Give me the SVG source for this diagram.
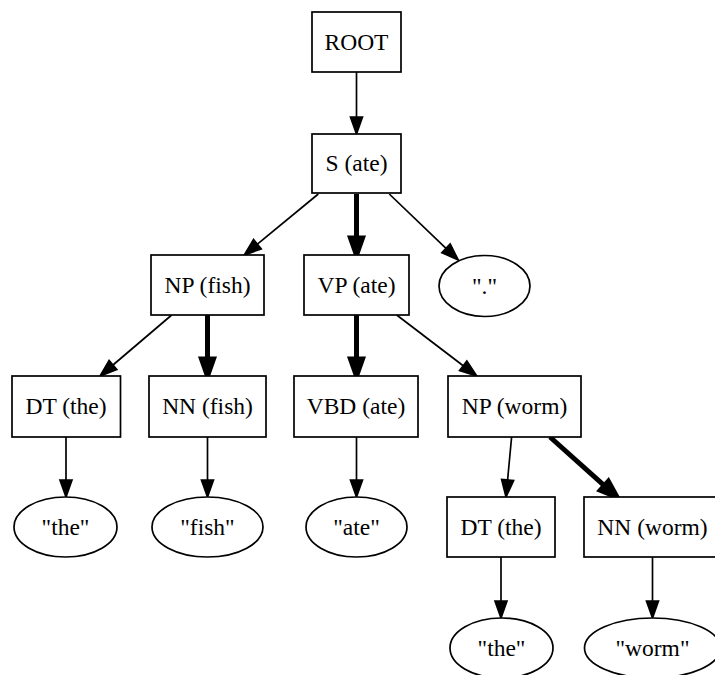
<svg xmlns="http://www.w3.org/2000/svg" width="715" height="675" viewBox="0 0 715 675">
  <style>
    .node rect, .node ellipse { fill: #fff; stroke: #000; stroke-width: 1.7; }
    .node text { font-family: 'Liberation Serif', 'Times New Roman', Tinos, 'DejaVu Serif', serif; font-size: 23.5px; text-anchor: middle; fill: #000; }
    .edge { fill: none; stroke: #000; }
    .thin { stroke-width: 1.7; marker-end: url(#arr); }
    .thick { stroke-width: 5; marker-end: url(#arrB); }
  </style>
  <defs>
    <marker id="arr" markerUnits="userSpaceOnUse" orient="auto" refX="0" refY="0" markerWidth="20" markerHeight="20" overflow="visible">
      <path d="M0,-6 L17,0 L0,6 Z" fill="#000" stroke="#000" stroke-width="1.7"/>
    </marker>
    <marker id="arrB" markerUnits="userSpaceOnUse" orient="auto" refX="0" refY="0" markerWidth="20" markerHeight="20" overflow="visible">
      <path d="M0,-6 L17,0 L0,6 Z" fill="#000" stroke="#000" stroke-width="5"/>
    </marker>
  </defs>
  <rect width="715" height="675" fill="#fff"/>

  <g id="edges">
    <path class="edge thin" d="M356.5,72 L356.5,117"/>
    <path class="edge thin" d="M318.3,194 L257.4,244.2"/>
    <path class="edge thick" d="M356.5,194 L356.5,238"/>
    <path class="edge thin" d="M389.3,194 L446,248.3"/>
    <path class="edge thin" d="M171.7,315 L113,365"/>
    <path class="edge thick" d="M207.5,315 L207.5,359"/>
    <path class="edge thick" d="M356.5,315 L356.5,359"/>
    <path class="edge thin" d="M396.7,315 L463.2,365.7"/>
    <path class="edge thin" d="M511.7,436 L507.6,480"/>
    <path class="edge thick" d="M550,437 L604.3,485.7"/>
    <path class="edge thin" d="M66,436 L66,480"/>
    <path class="edge thin" d="M207.5,436 L207.5,480"/>
    <path class="edge thin" d="M356.5,436 L356.5,480"/>
    <path class="edge thin" d="M501,557 L501,601"/>
    <path class="edge thin" d="M652.5,557 L652.5,601"/>
  </g>

  <g font-family="Liberation Serif, serif">
  <g id="root" class="node"><rect x="312" y="12" width="89" height="60"/><text x="356.5" y="49.5">ROOT</text></g>
  <g id="s_ate" class="node"><rect x="312" y="134" width="89" height="59"/><text x="356.5" y="171">S (ate)</text></g>
  <g id="np_fish" class="node"><rect x="151" y="255" width="113" height="60"/><text x="207.5" y="292.5">NP (fish)</text></g>
  <g id="vp_ate" class="node"><rect x="304" y="255" width="105" height="60"/><text x="356.5" y="292.5">VP (ate)</text></g>
  <g id="tok_period" class="node"><ellipse cx="484.5" cy="286" rx="45.5" ry="30.5"/><text x="484.5" y="293.5">"."</text></g>
  <g id="dt_the1" class="node"><rect x="12" y="376" width="108.5" height="61"/><text x="66" y="414">DT (the)</text></g>
  <g id="nn_fish" class="node"><rect x="149" y="376" width="117" height="61"/><text x="207.5" y="414">NN (fish)</text></g>
  <g id="vbd_ate" class="node"><rect x="294" y="376" width="124" height="61"/><text x="356" y="414">VBD (ate)</text></g>
  <g id="np_worm" class="node"><rect x="448" y="376" width="133" height="61"/><text x="514.5" y="414">NP (worm)</text></g>
  <g id="tok_the1" class="node"><ellipse cx="65.5" cy="527" rx="51.5" ry="30"/><text x="65.5" y="534.5">"the"</text></g>
  <g id="tok_fish" class="node"><ellipse cx="207.5" cy="527" rx="55.5" ry="30"/><text x="207.5" y="534.5">"fish"</text></g>
  <g id="tok_ate" class="node"><ellipse cx="356.5" cy="527" rx="50.5" ry="30"/><text x="356.5" y="534.5">"ate"</text></g>
  <g id="dt_the2" class="node"><rect x="447" y="497" width="108" height="60"/><text x="501" y="534.5">DT (the)</text></g>
  <g id="nn_worm" class="node"><rect x="584" y="497" width="137" height="60"/><text x="652.5" y="534.5">NN (worm)</text></g>
  <g id="tok_the2" class="node"><ellipse cx="501.5" cy="648" rx="51.5" ry="30"/><text x="501.5" y="655.5">"the"</text></g>
  <g id="tok_worm" class="node"><ellipse cx="652.5" cy="648" rx="68" ry="30"/><text x="652.5" y="655.5">"worm"</text></g>
  </g>
</svg>
